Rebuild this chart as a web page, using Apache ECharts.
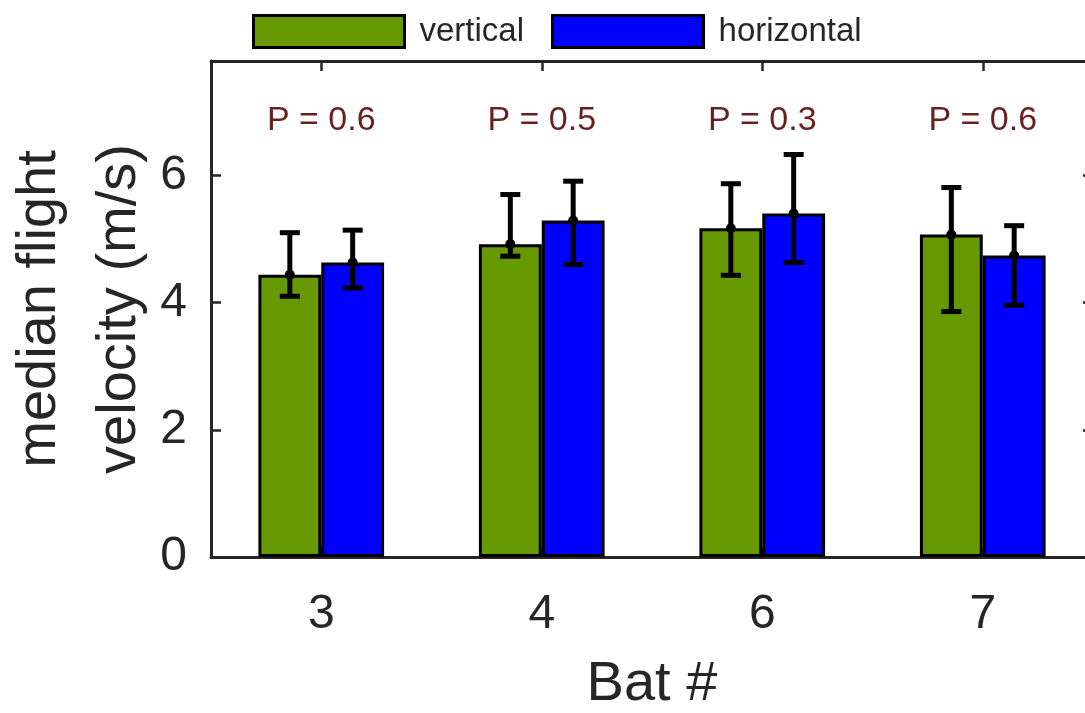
<!DOCTYPE html>
<html>
<head>
<meta charset="utf-8">
<script src="https://cdn.jsdelivr.net/npm/echarts@6/dist/echarts.min.js"></script>
<style>
  html, body { margin: 0; padding: 0; overflow: hidden; background: #fff; }
  #chart { width: 1100px; height: 713px; }
</style>
</head>
<body>
<div id="chart"></div>
<script>
// Bat IDs on the x axis
const bats = ['3', '4', '6', '7'];
// Median flight velocity (m/s) per condition
const verticalMean = [4.44, 4.92, 5.17, 5.07];
const horizontalMean = [4.63, 5.29, 5.40, 4.74];
// Error bar extents (m/s)
const verticalLow = [4.10, 4.73, 4.43, 3.86];
const verticalHigh = [5.10, 5.70, 5.87, 5.81];
const horizontalLow = [4.23, 4.60, 4.63, 3.96];
const horizontalHigh = [5.14, 5.91, 6.33, 5.21];
// P values printed above each bat
const pLabels = ['P = 0.6', 'P = 0.5', 'P = 0.3', 'P = 0.6'];
const pLabelY = 6.86;

const FONT = "'Liberation Sans', Arial, Helvetica, sans-serif";
const AXIS_COLOR = '#262626';
const GREEN = '#669900';
const BLUE = '#0000ff';
const BAR_FRACTION = 0.285;

function errorBarSeries(low, high, mean, side) {
  return {
    type: 'custom',
    z: 5,
    silent: true,
    data: low.map((l, i) => [i, l, high[i], mean[i]]),
    encode: { x: 0, y: [1, 2] },
    renderItem: function (params, api) {
      const band = api.size([1, 0])[0];
      const off = side * band * BAR_FRACTION / 2;
      const top = api.coord([api.value(0), api.value(2)]);
      const bot = api.coord([api.value(0), api.value(1)]);
      const mid = api.coord([api.value(0), api.value(3)]);
      const x = top[0] + off;
      const cap = 10;
      const style = { stroke: '#000', lineWidth: 5 };
      return {
        type: 'group',
        children: [
          { type: 'line', shape: { x1: x, y1: top[1], x2: x, y2: bot[1] }, style },
          { type: 'line', shape: { x1: x - cap, y1: top[1], x2: x + cap, y2: top[1] }, style },
          { type: 'line', shape: { x1: x - cap, y1: bot[1], x2: x + cap, y2: bot[1] }, style },
          { type: 'circle', shape: { cx: x, cy: mid[1], r: 5 }, style: { fill: '#000' } }
        ]
      };
    }
  };
}

const chart = echarts.init(document.getElementById('chart'), null, { renderer: 'canvas' });

const tickStyle = { show: true, inside: true, length: 10, lineStyle: { color: AXIS_COLOR, width: 2.5 } };
const lineStyle = { show: true, onZero: false, lineStyle: { color: AXIS_COLOR, width: 3 } };

chart.setOption({
  animation: false,
  textStyle: { fontFamily: FONT },
  legend: {
    data: ['vertical', 'horizontal'],
    left: 247,
    top: 9,
    icon: 'rect',
    itemWidth: 151,
    itemHeight: 32,
    itemGap: 27,
    textStyle: { fontSize: 33, color: AXIS_COLOR, fontFamily: FONT, padding: [0, 0, 0, 10] },
    itemStyle: { borderColor: '#000', borderWidth: 3 }
  },
  grid: { left: 211, right: 7, top: 61, bottom: 156, containLabel: false, outerBoundsMode: 'none' },
  xAxis: [
    {
      type: 'category',
      data: bats,
      axisLine: lineStyle,
      axisTick: Object.assign({ alignWithLabel: true }, tickStyle),
      axisLabel: { fontSize: 48, color: AXIS_COLOR, margin: 34, fontFamily: FONT },
      name: 'Bat #',
      nameLocation: 'middle',
      nameGap: 100,
      nameMoveOverlap: false,
      nameTextStyle: { fontSize: 56, color: AXIS_COLOR, fontFamily: FONT }
    },
    {
      type: 'category',
      data: bats,
      position: 'top',
      axisLine: lineStyle,
      axisTick: Object.assign({ alignWithLabel: true }, tickStyle),
      axisLabel: { show: false }
    }
  ],
  yAxis: [
    {
      type: 'value',
      min: 0,
      max: 7.8,
      interval: 2,
      splitLine: { show: false },
      axisLine: lineStyle,
      axisTick: tickStyle,
      axisLabel: { fontSize: 48, color: AXIS_COLOR, margin: 24, showMaxLabel: false, fontFamily: FONT },
      name: 'median flight\nvelocity (m/s)',
      nameLocation: 'middle',
      nameRotate: 90,
      nameGap: 51,
      nameMoveOverlap: false,
      nameTextStyle: { fontSize: 56, lineHeight: 80, color: AXIS_COLOR, fontFamily: FONT }
    },
    {
      type: 'value',
      min: 0,
      max: 7.8,
      interval: 2,
      position: 'right',
      splitLine: { show: false },
      axisLine: lineStyle,
      axisTick: tickStyle,
      axisLabel: { show: false }
    }
  ],
  series: [
    {
      name: 'vertical',
      type: 'bar',
      data: verticalMean,
      barWidth: (BAR_FRACTION * 100) + '%',
      barGap: '0%',
      itemStyle: { color: GREEN, borderColor: '#000', borderWidth: 3 }
    },
    {
      name: 'horizontal',
      type: 'bar',
      data: horizontalMean,
      barWidth: (BAR_FRACTION * 100) + '%',
      barGap: '0%',
      itemStyle: { color: BLUE, borderColor: '#000', borderWidth: 3 }
    },
    errorBarSeries(verticalLow, verticalHigh, verticalMean, -1),
    errorBarSeries(horizontalLow, horizontalHigh, horizontalMean, 1),
    {
      type: 'scatter',
      symbolSize: 0,
      silent: true,
      itemStyle: { opacity: 1 },
      data: pLabels.map((_, i) => [i, pLabelY]),
      label: {
        show: true,
        position: 'inside',
        formatter: (p) => pLabels[p.dataIndex],
        fontSize: 34,
        color: '#6a1f1f',
        opacity: 1,
        fontFamily: FONT
      }
    }
  ]
});
</script>
</body>
</html>
